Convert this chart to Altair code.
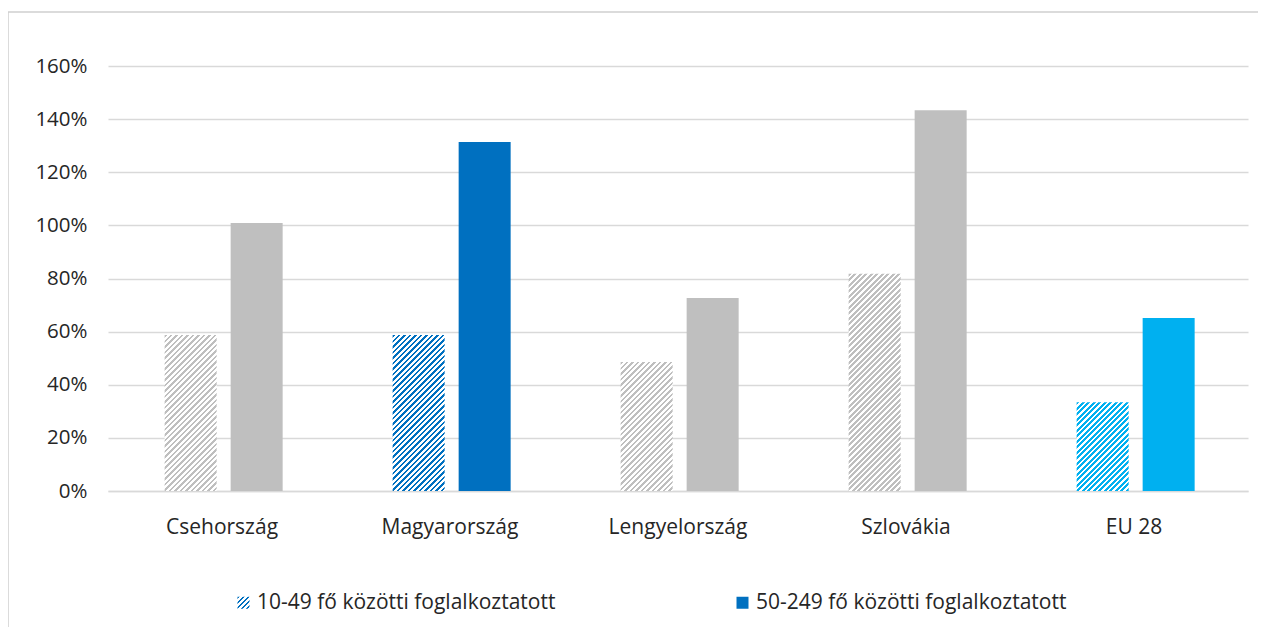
import altair as alt
import pandas as pd

countries = ["Csehország", "Magyarország", "Lengyelország", "Szlovákia", "EU 28"]
series = ["10-49 fő közötti foglalkoztatott", "50-249 fő közötti foglalkoztatott"]
small_vals = [0.587, 0.587, 0.486, 0.818, 0.334]
medium_vals = [1.009, 1.314, 0.727, 1.433, 0.651]
bar_colors = ["#BFBFBF", "#0070C0", "#BFBFBF", "#BFBFBF", "#00B0F0"]
y_ticks = [0, 0.2, 0.4, 0.6, 0.8, 1.0, 1.2, 1.4, 1.6]

W, H = 1140, 425
Y_MAX = 1.6
BAR_W = 52.0
PERIOD = 5.5
TEXT = "#262626"
GRID = "#D9D9D9"
FONT = "Open Sans"

rows = []
for c, s, m, col in zip(countries, small_vals, medium_vals, bar_colors):
    rows.append({"country": c, "series": series[0], "value": s, "color": col})
    rows.append({"country": c, "series": series[1], "value": m, "color": col})
df = pd.DataFrame(rows)


def hatch_stops(color, w, h, period):
    n = (w + h) / period
    stops = []
    k = 0
    while k < n:
        a = min(k / n, 1.0)
        b = min((k + 0.5) / n, 1.0)
        e = min((k + 1) / n, 1.0)
        stops += [
            {"offset": round(a, 5), "color": color},
            {"offset": round(b, 5), "color": color},
            {"offset": round(b, 5), "color": "#FFFFFF"},
            {"offset": round(e, 5), "color": "#FFFFFF"},
        ]
        k += 1
    return stops


def hatch(color, w, h, period=PERIOD):
    """Diagonal '/' stripes as an objectBoundingBox linear gradient."""
    c = (w + h) / (w * w + h * h)
    return {"gradient": "linear", "x1": 0, "y1": 0,
            "x2": round(w * c, 5), "y2": round(h * c, 5),
            "stops": hatch_stops(color, w, h, period)}


def hatch_expr(color, w, h, period=PERIOD):
    c = (w + h) / (w * w + h * h)
    stops = ", ".join(
        "{offset: %s, color: '%s'}" % (s["offset"], s["color"])
        for s in hatch_stops(color, w, h, period)
    )
    return ("{gradient: 'linear', x1: 0, y1: 0, x2: %s, y2: %s, stops: [%s]}"
            % (round(w * c, 5), round(h * c, 5), stops))


x_enc = alt.X(
    "country:N", sort=countries,
    scale=alt.Scale(domain=countries, paddingInner=0, paddingOuter=0),
    axis=alt.Axis(title=None, labelAngle=0, labelFontSize=21, labelFont=FONT,
                  labelColor=TEXT, labelPadding=25, ticks=False,
                  domainColor=GRID, domainWidth=1.5),
)
xo_enc = alt.XOffset(
    "series:N",
    scale=alt.Scale(domain=series, paddingInner=14 / 66, paddingOuter=0.8333,
                    align=0.515),
)
y_enc = alt.Y(
    "value:Q",
    scale=alt.Scale(domain=[0, Y_MAX], nice=False, zero=True),
    axis=alt.Axis(values=y_ticks, format=".0%", title=None, domain=False,
                  ticks=False, grid=True, gridColor=GRID, gridWidth=1.5,
                  labelPadding=21, labelFontSize=20.5, labelFont=FONT,
                  labelColor=TEXT),
)

base = alt.Chart(df)

frame = alt.Chart(pd.DataFrame({"k": [0]})).mark_rect(
    fill="transparent", stroke="#D0D0D0", strokeWidth=1.5
).encode(
    x=alt.value(-100), x2=alt.value(1300), y=alt.value(-54), y2=alt.value(700)
)

solid = base.transform_filter(alt.datum.series == series[1]).mark_bar().encode(
    x=x_enc, xOffset=xo_enc, y=y_enc, fill=alt.Fill("color:N", scale=None)
)

hatched_layers = []
for c, v, col in zip(countries, small_vals, bar_colors):
    h = v / Y_MAX * H
    hatched_layers.append(
        base.transform_filter(
            (alt.datum.series == series[0]) & (alt.datum.country == c)
        ).mark_bar(fill=hatch(col, BAR_W, h)).encode(x=x_enc, xOffset=xo_enc, y=y_enc)
    )

legend_fill = alt.ExprRef(
    "indexof('' + datum.value, '10-49') === 0 ? "
    + hatch_expr("#0070C0", 12.0, 12.0, 5.0)
    + " : '#0070C0'"
)

legend_layer = base.mark_point(filled=True, opacity=0).encode(
    x=x_enc, xOffset=xo_enc, y=y_enc,
    fill=alt.Fill("color:N", scale=None),
    shape=alt.Shape(
        "series:N",
        scale=alt.Scale(domain=series, range=["square", "square"]),
        legend=alt.Legend(
            title=None, orient="none", legendX=125, legendY=526,
            direction="horizontal", symbolSize=144,
            symbolStrokeWidth=0, symbolOpacity=1, symbolFillColor=legend_fill,
            labelFontSize=21, labelFont=FONT, labelColor=TEXT, labelLimit=600,
            columnPadding=176, labelOffset=3,
        ),
    ),
)

chart = alt.layer(frame, solid, *hatched_layers, legend_layer).properties(
    width=W, height=H,
    padding={"left": 100, "top": 58, "right": 10, "bottom": 136},
    autosize=alt.AutoSizeParams(type="none"),
    background="white",
).configure_view(stroke=None).configure_axis(labelFont=FONT)

chart.save("out.html", embed_options={"renderer": "svg", "actions": False})
